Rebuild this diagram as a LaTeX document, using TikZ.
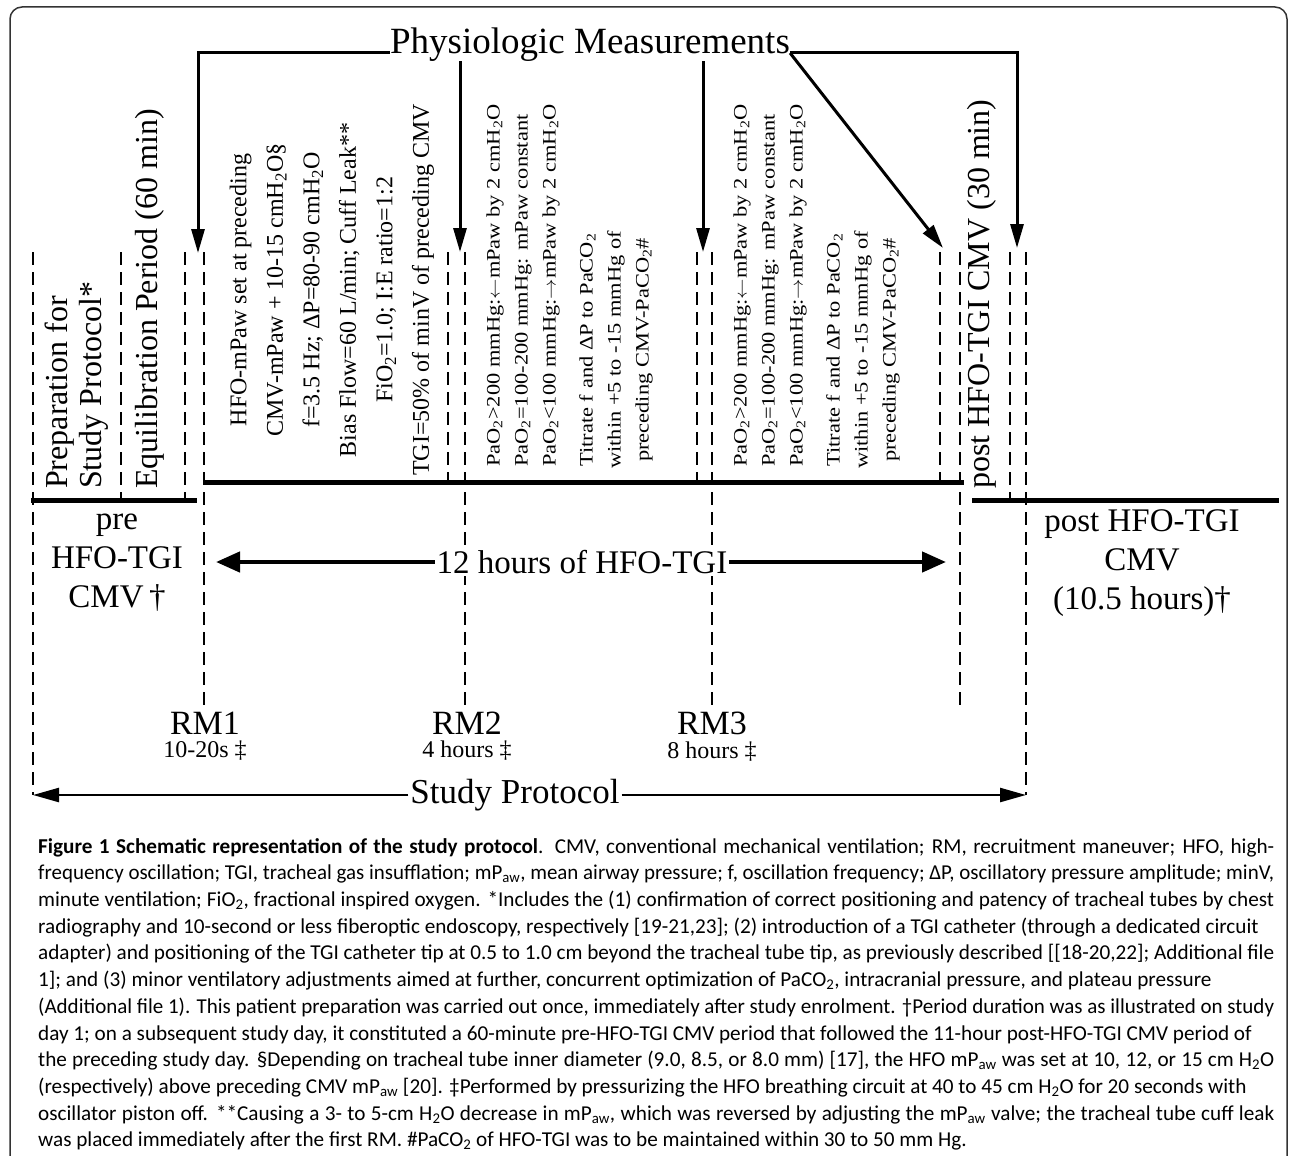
\documentclass[tikz,border=0pt]{standalone}
\usepackage{fontspec}
\usepackage{graphicx}
\setmainfont{Liberation Serif}
\newfontfamily\capfont{Carlito}
\usetikzlibrary{arrows.meta,positioning}
\newlength{\capw}
\setlength{\capw}{1236pt}
\newsavebox{\capbox}
\newcommand{\fline}[1]{\sbox{\capbox}{#1}\ifdim\wd\capbox>\capw\resizebox{\capw}{\height}{\usebox{\capbox}}\else\makebox[\capw][s]{#1}\fi}
\newcommand{\lo}[1]{\textsubscript{#1}}
\newcommand{\dn}{$\leftarrow$}
\newcommand{\up}{$\rightarrow$}
\begin{document}
\begin{tikzpicture}[x=1pt,y=-1pt,
    dashln/.style={line width=2.2pt,dash pattern=on 13pt off 7pt},
    timeln/.style={line width=5pt},
    measarr/.style={line width=3pt,-{Triangle[length=24pt,width=13pt]}},
    hourarr/.style={line width=4.5pt,-{Triangle[length=24pt,width=20pt]}},
    protarr/.style={line width=2.4pt,-{Triangle[length=26pt,width=14pt]}},
    bigtxt/.style={font=\fontsize{32pt}{34pt}\selectfont,inner sep=0pt},
    vtxt/.style={rotate=90,inner sep=0pt},
    hfotxt/.style={vtxt,align=center,font=\fontsize{24pt}{36.5pt}\selectfont},
    rmtxt/.style={vtxt,xscale=1.18,font=\fontsize{19pt}{28pt}\selectfont},
    lowtxt/.style={font=\fontsize{33pt}{39pt}\selectfont,align=center}]
\useasboundingbox (0,0) rectangle (1290,1156);
% frame
\draw[line width=1.5pt,rounded corners=12pt,black!80] (10,1170) -- (10,7) -- (1287,7) -- (1287,1170);

% Physiologic Measurements
\node[font=\fontsize{37pt}{40pt}\selectfont,inner sep=0pt,anchor=base] (meas) at (590,53) {Physiologic Measurements};
\coordinate (m1) at (198,253);
\coordinate (m2) at (460,252);
\coordinate (m3) at (703,252);
\coordinate (m4) at (943,248);
\coordinate (m5) at (1017,248);
\draw[measarr] (meas.base west) -| (m1);
\draw[measarr] (m2 |- meas.south) -- (m2);
\draw[measarr] (m3 |- meas.south) -- (m3);
\draw[measarr] (meas.base east) -- (m4);
\draw[measarr] (meas.base east) -| (m5);

% dashed period limits
\foreach \x in {121,185} \draw[dashln] (\x,252) -- (\x,498);
\foreach \x in {448,697,940} \draw[dashln] (\x,252) -- (\x,480);
\draw[dashln] (1010,252) -- (1010,498);
\foreach \x in {204,465,712,960} \draw[dashln] (\x,252) -- (\x,705);
\foreach \x in {33,1026} \draw[dashln] (\x,252) -- (\x,795);

% time line
\draw[timeln] (31,500) -- (197,500);
\draw[timeln] (203,482) -- (964,482);
\draw[timeln] (972,500) -- (1279,500);

% periods
\node[vtxt,bigtxt,align=left,anchor=west] (prep) at (77,489) {Preparation for\\Study Protocol*};
\node[vtxt,bigtxt,anchor=west] (equi) at (150,489) {Equilibration Period (60 min)};
\node[hfotxt] (hfo) at (332,290) {HFO-mPaw set at preceding\\CMV-mPaw + 10-15 cmH\lo{2}O§\\f=3.5 Hz; ΔP=80-90 cmH\lo{2}O\\Bias Flow=60 L/min; Cuff Leak**\\FiO\lo{2}=1.0; I:E ratio=1:2\\TGI=50\% of minV of preceding CMV};
\node[rmtxt,align=left,anchor=west] (rm2a) at (523,467) {PaO\lo{2}>200 mmHg:\dn mPaw by 2 cmH\lo{2}O\\PaO\lo{2}=100-200 mmHg: mPaw constant\\PaO\lo{2}<100 mmHg:\up mPaw by 2 cmH\lo{2}O};
\node[rmtxt,align=center] (rm2b) at (616,350) {Titrate f and ΔP to PaCO\lo{2}\\within +5 to -15 mmHg of\\preceding CMV-PaCO\lo{2}\#};
\node[rmtxt,align=left,anchor=west] (rm3a) at (770,467) {PaO\lo{2}>200 mmHg:\dn mPaw by 2 cmH\lo{2}O\\PaO\lo{2}=100-200 mmHg: mPaw constant\\PaO\lo{2}<100 mmHg:\up mPaw by 2 cmH\lo{2}O};
\node[rmtxt,align=center] (rm3b) at (863,350) {Titrate f and ΔP to PaCO\lo{2}\\within +5 to -15 mmHg of\\preceding CMV-PaCO\lo{2}\#};
\node[vtxt,bigtxt,anchor=west] (post) at (982,489) {post HFO-TGI CMV (30 min)};

% below the time line
\node[lowtxt] (pre) at (117,563) {pre\\HFO-TGI\\CMV\,†};
\node[lowtxt] (postcmv) at (1142,563) {post HFO-TGI\\CMV\\(10.5 hours)†};
\node[font=\fontsize{33pt}{35pt}\selectfont,fill=white,inner sep=2pt] (twelve) at (582,562) {12 hours of HFO-TGI};
\coordinate (hl) at (216,562);
\coordinate (hr) at (946,562);
\draw[hourarr] (twelve.west) -- (hl);
\draw[hourarr] (twelve.east) -- (hr);

% recruitment maneuvers
\node[font=\fontsize{34pt}{36pt}\selectfont] (rm1) at (205,723) {RM1};
\node[font=\fontsize{24pt}{26pt}\selectfont,below=0pt of rm1] (rm1t) {10-20s ‡};
\node[font=\fontsize{34pt}{36pt}\selectfont] (rm2) at (467,723) {RM2};
\node[font=\fontsize{24pt}{26pt}\selectfont,below=0pt of rm2] (rm2t) {4 hours ‡};
\node[font=\fontsize{34pt}{36pt}\selectfont] (rm3) at (712,723) {RM3};
\node[font=\fontsize{24pt}{26pt}\selectfont,below=0pt of rm3] (rm3t) {8 hours ‡};

% study protocol
\node[font=\fontsize{35pt}{37pt}\selectfont,inner sep=2pt] (prot) at (515,795) {Study Protocol};
\coordinate (pl) at (33,795);
\coordinate (pr) at (1026,795);
\draw[protarr] (prot.west) -- (pl);
\draw[protarr] (prot.east) -- (pr);

% caption
\node[anchor=north west,inner sep=0pt,align=left,font=\capfont\fontsize{21.2pt}{26.7pt}\selectfont] (cap) at (38,838) {%
\fline{\textbf{Figure 1 Schematic representation of the study protocol}. CMV, conventional mechanical ventilation; RM, recruitment maneuver; HFO, high-}\\
\fline{frequency oscillation; TGI, tracheal gas insufflation; mP\lo{aw}, mean airway pressure; f, oscillation frequency; ΔP, oscillatory pressure amplitude; minV,}\\
\fline{minute ventilation; FiO\lo{2}, fractional inspired oxygen. *Includes the (1) confirmation of correct positioning and patency of tracheal tubes by chest}\\
radiography and 10-second or less fiberoptic endoscopy, respectively [19-21,23]; (2) introduction of a TGI catheter (through a dedicated circuit\\
\fline{adapter) and positioning of the TGI catheter tip at 0.5 to 1.0 cm beyond the tracheal tube tip, as previously described [[18-20,22]; Additional file}\\
1]; and (3) minor ventilatory adjustments aimed at further, concurrent optimization of PaCO\lo{2}, intracranial pressure, and plateau pressure\\
\fline{(Additional file 1). This patient preparation was carried out once, immediately after study enrolment. †Period duration was as illustrated on study}\\
day 1; on a subsequent study day, it constituted a 60-minute pre-HFO-TGI CMV period that followed the 11-hour post-HFO-TGI CMV period of\\
\fline{the preceding study day. §Depending on tracheal tube inner diameter (9.0, 8.5, or 8.0 mm) [17], the HFO mP\lo{aw} was set at 10, 12, or 15 cm H\lo{2}O}\\
(respectively) above preceding CMV mP\lo{aw} [20]. ‡Performed by pressurizing the HFO breathing circuit at 40 to 45 cm H\lo{2}O for 20 seconds with\\
\fline{oscillator piston off. **Causing a 3- to 5-cm H\lo{2}O decrease in mP\lo{aw}, which was reversed by adjusting the mP\lo{aw} valve; the tracheal tube cuff leak}\\
was placed immediately after the first RM. \#PaCO\lo{2} of HFO-TGI was to be maintained within 30 to 50 mm Hg.};
\end{tikzpicture}
\end{document}
